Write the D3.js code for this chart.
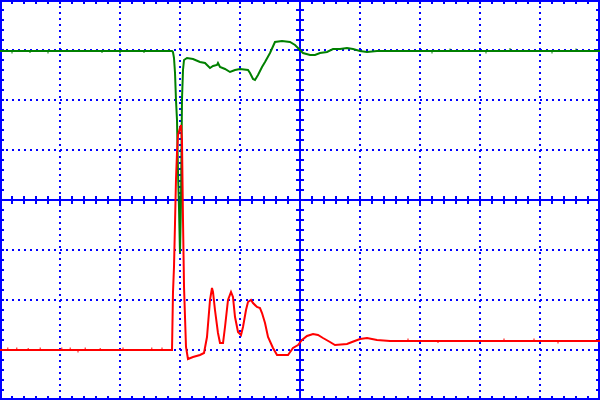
<!DOCTYPE html>
<html>
<head>
<meta charset="utf-8">
<script src="https://cdn.jsdelivr.net/npm/d3@7"></script>
<style>
  html, body { margin: 0; padding: 0; background: #fff; }
  svg { display: block; }
</style>
</head>
<body>
<div id="scope"></div>
<script>
// Écran d'oscilloscope : 10 divisions en temps, 8 en tension
// Valeurs en divisions, relevées sur la capture

// Voie 1 (verte) : [temps (div), tension (div)]
const ch1 = [
  [-5.0, 2.98], [-2.133, 2.98], [-2.117, 2.96], [-2.1, 2.84], [-2.083, 2.54],
  [-2.067, 2.0], [-2.05, 1.6], [-2.033, 0.54], [-2.017, -0.14], [-2.0, -1.06],
  [-1.983, 0.0], [-1.967, 2.0], [-1.95, 2.6], [-1.933, 2.8], [-1.883, 2.84],
  [-1.783, 2.82], [-1.667, 2.76], [-1.583, 2.74], [-1.5, 2.64], [-1.45, 2.68],
  [-1.383, 2.7], [-1.367, 2.74], [-1.333, 2.66], [-1.25, 2.62], [-1.167, 2.56],
  [-1.083, 2.6], [-1.0, 2.62], [-0.867, 2.6], [-0.833, 2.54], [-0.783, 2.42],
  [-0.75, 2.4], [-0.7, 2.5], [-0.633, 2.66], [-0.583, 2.76], [-0.5, 2.94],
  [-0.417, 3.16], [-0.3, 3.18], [-0.167, 3.16], [-0.083, 3.1], [0.0, 3.0],
  [0.05, 2.94], [0.167, 2.9], [0.25, 2.9], [0.333, 2.94], [0.45, 2.96],
  [0.55, 3.02], [0.667, 3.02], [0.783, 3.04], [0.883, 3.02], [1.0, 2.98],
  [1.117, 2.96], [1.283, 2.98], [1.5, 2.98], [5.0, 2.98]
];

// Voie 2 (rouge)
const ch2 = [
  [-5.0, -3.0], [-2.133, -3.0], [-2.117, -1.86], [-2.1, -1.34], [-2.083, -0.46],
  [-2.067, 0.4], [-2.05, 0.94], [-2.033, 1.3], [-2.0, 1.44], [-1.983, 1.5],
  [-1.967, 1.2], [-1.95, -0.4], [-1.933, -1.74], [-1.9, -2.94], [-1.867, -3.18],
  [-1.783, -3.14], [-1.667, -3.1], [-1.6, -3.06], [-1.55, -2.74], [-1.5, -2.0],
  [-1.467, -1.76], [-1.45, -1.84], [-1.417, -2.2], [-1.367, -2.66], [-1.333, -2.86],
  [-1.283, -2.86], [-1.25, -2.54], [-1.2, -2.0], [-1.15, -1.84], [-1.117, -1.94],
  [-1.083, -2.34], [-1.033, -2.64], [-0.983, -2.7], [-0.95, -2.54], [-0.9, -2.2],
  [-0.867, -2.04], [-0.817, -2.0], [-0.783, -2.06], [-0.717, -2.14], [-0.667, -2.16],
  [-0.633, -2.26], [-0.583, -2.46], [-0.533, -2.74], [-0.45, -2.96], [-0.383, -3.1],
  [-0.2, -3.1], [-0.117, -2.96], [-0.033, -2.9], [0.033, -2.8], [0.117, -2.72],
  [0.217, -2.68], [0.3, -2.7], [0.383, -2.76], [0.5, -2.84], [0.583, -2.9],
  [0.783, -2.88], [0.867, -2.84], [1.0, -2.78], [1.117, -2.76], [1.283, -2.8],
  [1.5, -2.82], [5.0, -2.82]
];

// Parasites visibles sur les paliers : [temps (div), niveau (div), écart (div)]
const glitch1 = [
  [-4.8, 2.98, -0.05], [-4.5, 2.98, -0.04], [-4.2, 2.98, -0.05], [-3.3, 2.98, -0.04],
  [-3.0, 2.98, -0.05], [-2.6, 2.98, -0.04], [2.2, 2.98, -0.05], [2.5, 2.98, 0.05],
  [3.1, 2.98, -0.05], [3.5, 2.98, 0.06], [4.2, 2.98, -0.05], [4.6, 2.98, 0.05]
];
const glitch2 = [
  [-4.87, -3.0, 0.05], [-4.72, -3.0, 0.05], [-4.53, -3.0, 0.04], [-4.33, -3.0, 0.05],
  [-3.97, -3.0, 0.05], [-3.83, -3.0, 0.05], [-3.7, -3.0, -0.05], [-3.58, -3.0, 0.05],
  [-3.33, -3.0, 0.04], [-2.95, -3.0, 0.05], [-2.47, -3.0, 0.05], [-2.3, -3.0, 0.05],
  [1.8, -2.82, 0.05], [2.3, -2.82, -0.04], [3.4, -2.82, 0.05], [3.9, -2.82, 0.05],
  [4.3, -2.82, -0.05]
];

const W = 600, H = 400;
const COL = { grid: '#0000ff', ch1: '#008000', ch2: '#ff0000' };

const x = d3.scaleLinear().domain([-5, 5]).range([0, W]);
const y = d3.scaleLinear().domain([-4, 4]).range([H, 0]);

const svg = d3.select('#scope').append('svg')
  .attr('width', W).attr('height', H)
  .attr('viewBox', `0 0 ${W} ${H}`);

// Grille pointillée (divisions principales)
const g = svg.append('g').attr('shape-rendering', 'crispEdges');
const vDiv = d3.range(-4, 5).filter(d => d !== 0);
const hDiv = d3.range(-3, 4).filter(d => d !== 0);

g.selectAll('line.vg').data(vDiv).join('line')
  .attr('class', 'vg')
  .attr('x1', d => x(d)).attr('x2', d => x(d))
  .attr('y1', 0).attr('y2', H)
  .attr('stroke', COL.grid).attr('stroke-width', 2)
  .attr('stroke-dasharray', '2,4');

g.selectAll('line.hg').data(hDiv).join('line')
  .attr('class', 'hg')
  .attr('x1', 0).attr('x2', W)
  .attr('y1', d => y(d)).attr('y2', d => y(d))
  .attr('stroke', COL.grid).attr('stroke-width', 2)
  .attr('stroke-dasharray', '2,4');

// Axes centraux avec graduations secondaires (1/5 de division)
const xMinor = d3.range(-25, 26).map(i => i / 5);
const yMinor = d3.range(-20, 21).map(i => i / 5);

g.append('line')
  .attr('x1', 0).attr('x2', W).attr('y1', y(0)).attr('y2', y(0))
  .attr('stroke', COL.grid).attr('stroke-width', 2);
g.append('line')
  .attr('x1', x(0)).attr('x2', x(0)).attr('y1', 0).attr('y2', H)
  .attr('stroke', COL.grid).attr('stroke-width', 2);

g.selectAll('line.xt').data(xMinor).join('line')
  .attr('class', 'xt')
  .attr('x1', d => x(d)).attr('x2', d => x(d))
  .attr('y1', y(0) - 4).attr('y2', y(0) + 4)
  .attr('stroke', COL.grid).attr('stroke-width', 2);

g.selectAll('line.yt').data(yMinor).join('line')
  .attr('class', 'yt')
  .attr('x1', x(0) - 4).attr('x2', x(0) + 4)
  .attr('y1', d => y(d)).attr('y2', d => y(d))
  .attr('stroke', COL.grid).attr('stroke-width', 2);

// Cadre + graduations intérieures
g.append('rect')
  .attr('x', 1).attr('y', 1).attr('width', W - 2).attr('height', H - 2)
  .attr('fill', 'none').attr('stroke', COL.grid).attr('stroke-width', 2);

g.selectAll('line.bt').data(xMinor).join('line')
  .attr('class', 'bt')
  .attr('x1', d => x(d)).attr('x2', d => x(d))
  .attr('y1', 0).attr('y2', 4)
  .attr('stroke', COL.grid).attr('stroke-width', 2);
g.selectAll('line.bb').data(xMinor).join('line')
  .attr('class', 'bb')
  .attr('x1', d => x(d)).attr('x2', d => x(d))
  .attr('y1', H - 4).attr('y2', H)
  .attr('stroke', COL.grid).attr('stroke-width', 2);
g.selectAll('line.bl').data(yMinor).join('line')
  .attr('class', 'bl')
  .attr('x1', 0).attr('x2', 4)
  .attr('y1', d => y(d)).attr('y2', d => y(d))
  .attr('stroke', COL.grid).attr('stroke-width', 2);
g.selectAll('line.br').data(yMinor).join('line')
  .attr('class', 'br')
  .attr('x1', W - 4).attr('x2', W)
  .attr('y1', d => y(d)).attr('y2', d => y(d))
  .attr('stroke', COL.grid).attr('stroke-width', 2);

// Traces
const line = d3.line().x(d => x(d[0])).y(d => y(d[1]));

function trace(data, glitches, color) {
  svg.append('path')
    .datum(data)
    .attr('d', line)
    .attr('fill', 'none')
    .attr('stroke', color)
    .attr('stroke-width', 2)
    .attr('stroke-linejoin', 'miter');
  svg.append('g').selectAll('line').data(glitches).join('line')
    .attr('x1', d => x(d[0])).attr('x2', d => x(d[0]))
    .attr('y1', d => y(d[1])).attr('y2', d => y(d[1] + d[2]))
    .attr('stroke', color).attr('stroke-width', 1);
}

trace(ch1, glitch1, COL.ch1);
trace(ch2, glitch2, COL.ch2);
</script>
</body>
</html>
